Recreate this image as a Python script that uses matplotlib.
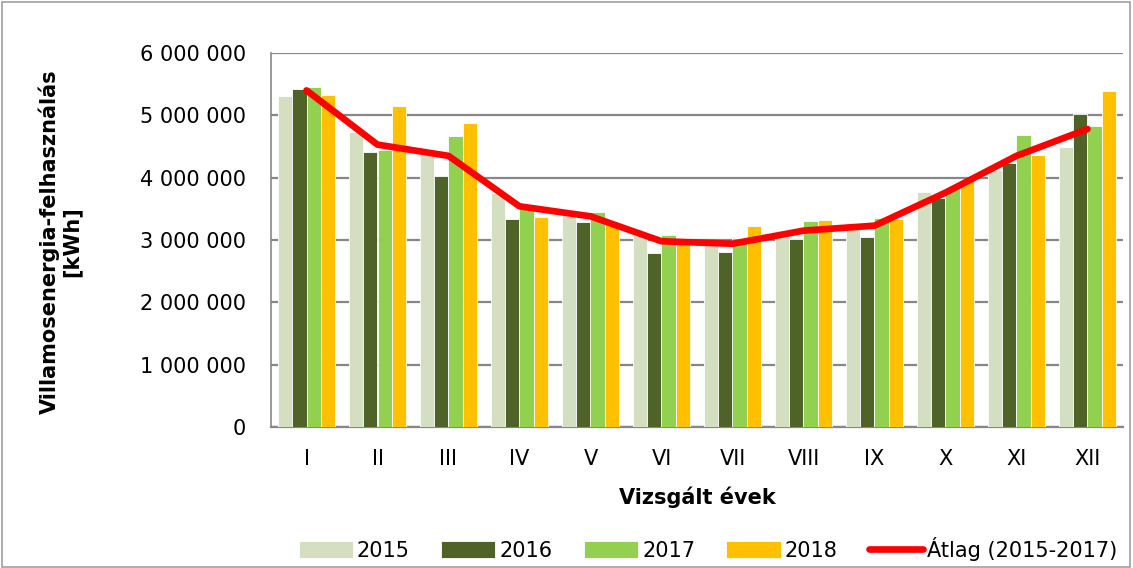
import matplotlib
matplotlib.use("Agg")
import matplotlib.pyplot as plt
import numpy as np
from matplotlib.patches import Rectangle

months = ["I", "II", "III", "IV", "V", "VI", "VII", "VIII", "IX", "X", "XI", "XII"]
y2015 = [5.315, 4.74, 4.36, 3.76, 3.40, 3.08, 2.97, 3.05, 3.28, 3.77, 4.13, 4.49]
y2016 = [5.42, 4.41, 4.03, 3.33, 3.29, 2.79, 2.80, 3.02, 3.05, 3.68, 4.23, 5.02]
y2017 = [5.45, 4.45, 4.67, 3.51, 3.45, 3.08, 3.03, 3.31, 3.35, 3.83, 4.68, 4.83]
y2018 = [5.32, 5.155, 4.88, 3.37, 3.28, 3.03, 3.22, 3.32, 3.33, 3.96, 4.36, 5.39]
avg = [5.40, 4.53, 4.35, 3.54, 3.38, 2.98, 2.94, 3.15, 3.23, 3.76, 4.35, 4.78]
series_names = ["2015", "2016", "2017", "2018"]
avg_name = "Átlag (2015-2017)"
yticks = [0, 1, 2, 3, 4, 5, 6]
ytick_labels = ["0", "1 000 000", "2 000 000", "3 000 000", "4 000 000", "5 000 000", "6 000 000"]

colors = ["#D3DFC0", "#4F6228", "#92D050", "#FFC000"]
W, H = 1133, 568
fig = plt.figure(figsize=(W / 100, H / 100), dpi=100)
ax = fig.add_axes([271 / W, 1 - 427 / H, (1123 - 271) / W, (427 - 53) / H])

x = np.arange(len(months))
bw = 0.2
data = [y2015, y2016, y2017, y2018]
for i, (vals, c, nm) in enumerate(zip(data, colors, series_names)):
    ax.bar(x + (i - 1.5) * bw, np.array(vals) * 1e6, width=bw, color=c,
           edgecolor="white", linewidth=0.6, label=nm, zorder=3)
ax.plot(x, np.array(avg) * 1e6, color="#FF0000", linewidth=4.8, label=avg_name,
        zorder=4, solid_capstyle="round")

ax.set_xlim(-0.5, len(months) - 0.5)
ax.set_ylim(0, 6e6)
ax.set_yticks(np.array(yticks) * 1e6)
ax.set_yticklabels(ytick_labels, fontsize=15)
ax.set_xticks(x)
ax.set_xticklabels(months, fontsize=15)
ax.tick_params(axis="x", length=0, pad=16)
ax.tick_params(axis="y", length=0, pad=18)
ax.grid(axis="y", color="#878787", linewidth=1.6, zorder=0)
ax.set_axisbelow(True)
for s in ["top", "right"]:
    ax.spines[s].set_visible(False)
ax.spines["left"].set_color("#878787")
ax.spines["bottom"].set_color("#878787")
ax.spines["left"].set_linewidth(1.2)
ax.spines["bottom"].set_linewidth(1.6)

fig.text(60 / W, 1 - 242 / H, "Villamosenergia-felhasználás\n[kWh]", rotation=90,
         ha="center", va="center", fontsize=15, fontweight="bold", linespacing=1.05)
fig.text(697 / W, 1 - 497 / H, "Vizsgált évek", ha="center", va="center",
         fontsize=15, fontweight="bold")

handles, labels = ax.get_legend_handles_labels()
order = [1, 2, 3, 4, 0]
fig.legend([handles[i] for i in order], [labels[i] for i in order],
           loc="center", bbox_to_anchor=(708 / W, 1 - 549 / H), ncol=5,
           frameon=False, fontsize=15, handlelength=2.6, handleheight=0.9,
           handletextpad=0.2, columnspacing=1.5)

fig.patches.append(Rectangle((2 / W, 1 / H), (W - 5) / W, (H - 3) / H,
                             transform=fig.transFigure, fill=False,
                             edgecolor="#A0A0A0", linewidth=1.2))

fig.savefig("out.png", dpi=100)
